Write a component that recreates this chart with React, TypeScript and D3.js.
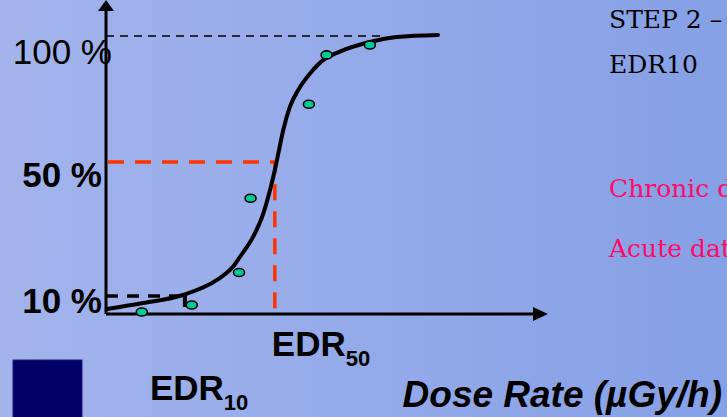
import React, { useEffect, useRef } from 'react';
import * as d3 from 'd3';

// fitted dose-response curve (dose rate, % effect)
const curveDose = [0.2, 8.4, 17.4, 25.1, 28.7, 30.3, 33.3, 35.6, 37.1, 38.2, 39.0, 40.1, 41.6, 43.5, 46.2, 49.2, 52.9, 59.7, 65.8, 75.1];
const curveEffect = [2.8, 6.1, 10.3, 14.8, 18.7, 21.7, 27.7, 34.7, 41.6, 47.6, 53.5, 62.7, 71.9, 78.6, 85.2, 90.5, 93.8, 97.6, 99.6, 100.4];

// observed points
const obsDose = [8.1, 19.4, 30.1, 32.7, 45.9, 49.9, 59.7];
const obsEffect = [1.1, 5.0, 17.0, 39.2, 72.9, 92.5, 96.4];

const edr10 = 17.4;
const edr50 = 38.2;
const topLineEnd = 62;

const tickValues = [100, 50, 10];
const tickLabels = ['100 %', '50 %', '10 %'];

const sideLines = ['STEP 2 \u2013', 'EDR10'];
const dataLines = ['Chronic data', 'Acute data'];

const W = 727;
const H = 417;

const App = () => {
  const ref = useRef<SVGSVGElement>(null);

  useEffect(() => {
    const svg = d3.select(ref.current);
    svg.selectAll('*').remove();

    const x = d3.scaleLinear().domain([0, 100]).range([106, 548]);
    const y = d3.scaleLinear().domain([0, 10, 50, 100]).range([314, 296, 162, 36]);

    const defs = svg.append('defs');
    const grad = defs.append('linearGradient').attr('id', 'bg').attr('x1', '0').attr('x2', '1').attr('y1', '0').attr('y2', '0');
    grad.append('stop').attr('offset', '0%').attr('stop-color', '#a3b4ec');
    grad.append('stop').attr('offset', '100%').attr('stop-color', '#86a0e6');
    svg.append('rect').attr('width', W).attr('height', H).attr('fill', 'url(#bg)');

    // axes
    svg.append('line')
      .attr('x1', x(0)).attr('x2', x(0))
      .attr('y1', 8).attr('y2', y(0))
      .attr('stroke', '#000').attr('stroke-width', 3);
    svg.append('path')
      .attr('d', `M${x(0)},0 L${x(0) - 8},11 L${x(0) + 8},11 Z`)
      .attr('fill', '#000');
    svg.append('line')
      .attr('x1', x(0)).attr('x2', x(100) - 10)
      .attr('y1', y(0)).attr('y2', y(0))
      .attr('stroke', '#000').attr('stroke-width', 3);
    svg.append('path')
      .attr('d', `M${x(100)},${y(0)} L${x(100) - 15},${y(0) - 7} L${x(100) - 15},${y(0) + 7} Z`)
      .attr('fill', '#000');

    // reference lines
    svg.append('line')
      .attr('x1', x(0)).attr('x2', x(topLineEnd))
      .attr('y1', y(100)).attr('y2', y(100))
      .attr('stroke', '#000').attr('stroke-width', 1.5).attr('stroke-dasharray', '8,6');

    svg.append('path')
      .attr('d', `M${x(0) + 2},${y(50)} H${x(edr50)} V${y(0)}`)
      .attr('fill', 'none')
      .attr('stroke', '#ff3300').attr('stroke-width', 3.5).attr('stroke-dasharray', '16,11');

    svg.append('line')
      .attr('x1', x(0)).attr('x2', x(edr10))
      .attr('y1', y(10)).attr('y2', y(10))
      .attr('stroke', '#000').attr('stroke-width', 3.5).attr('stroke-dasharray', '12,9');
    svg.append('line')
      .attr('x1', x(edr10) + 2).attr('x2', x(edr10) + 2)
      .attr('y1', y(10) - 3).attr('y2', y(0) - 7)
      .attr('stroke', '#000').attr('stroke-width', 4);

    // curve
    const line = d3.line<number>()
      .x((d, i) => x(curveDose[i]))
      .y(d => y(d))
      .curve(d3.curveMonotoneX);
    svg.append('path')
      .attr('d', line(curveEffect))
      .attr('fill', 'none')
      .attr('stroke', '#000')
      .attr('stroke-width', 4)
      .attr('stroke-linecap', 'round');

    // observations
    svg.selectAll('.obs')
      .data(obsEffect)
      .enter()
      .append('ellipse')
      .attr('class', 'obs')
      .attr('cx', (d, i) => x(obsDose[i]))
      .attr('cy', d => y(d))
      .attr('rx', 5.5)
      .attr('ry', 4)
      .attr('fill', '#00cc99')
      .attr('stroke', '#000')
      .attr('stroke-width', 1.6);

    // tick labels
    svg.selectAll('.tick-label')
      .data(tickValues)
      .enter()
      .append('text')
      .attr('class', 'tick-label')
      .attr('x', (d, i) => (i === 0 ? x(0) + 6 : x(0) - 4))
      .attr('y', (d, i) => y(d) + (i === 0 ? 28 : i === 1 ? 25 : 17))
      .attr('text-anchor', 'end')
      .attr('font-family', 'Liberation Sans, Arial, sans-serif')
      .attr('font-size', 35)
      .attr('font-weight', (d, i) => (i === 0 ? 'normal' : 'bold'))
      .attr('fill', '#000')
      .text((d, i) => tickLabels[i]);

    const sans = 'Liberation Sans, Arial, sans-serif';

    const e50 = svg.append('text')
      .attr('x', x(edr50) - 3).attr('y', y(0) + 42)
      .attr('font-family', sans).attr('font-size', 35).attr('font-weight', 'bold');
    e50.append('tspan').text('EDR');
    e50.append('tspan').attr('font-size', 22).attr('dy', 10).text('50');

    const e10 = svg.append('text')
      .attr('x', x(edr10) - 33).attr('y', y(0) + 86)
      .attr('font-family', sans).attr('font-size', 35).attr('font-weight', 'bold');
    e10.append('tspan').text('EDR');
    e10.append('tspan').attr('font-size', 22).attr('dy', 10).text('10');

    svg.append('text')
      .attr('x', 722).attr('y', 407)
      .attr('text-anchor', 'end')
      .attr('font-family', sans).attr('font-size', 37)
      .attr('font-weight', 'bold').attr('font-style', 'italic')
      .text('Dose Rate (\u00b5Gy/h)');

    svg.append('rect')
      .attr('x', 13).attr('y', 360).attr('width', 69).attr('height', 60)
      .attr('fill', '#000066').attr('stroke', '#1a1a80').attr('stroke-width', 1);

    const serif = 'DejaVu Serif, Liberation Serif, serif';
    svg.selectAll('.side')
      .data(sideLines)
      .enter()
      .append('text')
      .attr('class', 'side')
      .attr('x', 609)
      .attr('y', (d, i) => 28 + i * 45)
      .attr('font-family', serif).attr('font-size', 25)
      .attr('fill', '#000')
      .text(d => d);

    svg.selectAll('.dl')
      .data(dataLines)
      .enter()
      .append('text')
      .attr('class', 'dl')
      .attr('x', 609)
      .attr('y', (d, i) => 197 + i * 60)
      .attr('font-family', serif).attr('font-size', 25)
      .attr('fill', '#ff0a66')
      .text(d => d);
  }, []);

  return (
    <svg
      ref={ref}
      width={W}
      height={H}
      style={{ position: 'absolute', left: 0, top: 0, display: 'block' }}
    />
  );
};

export default App;
